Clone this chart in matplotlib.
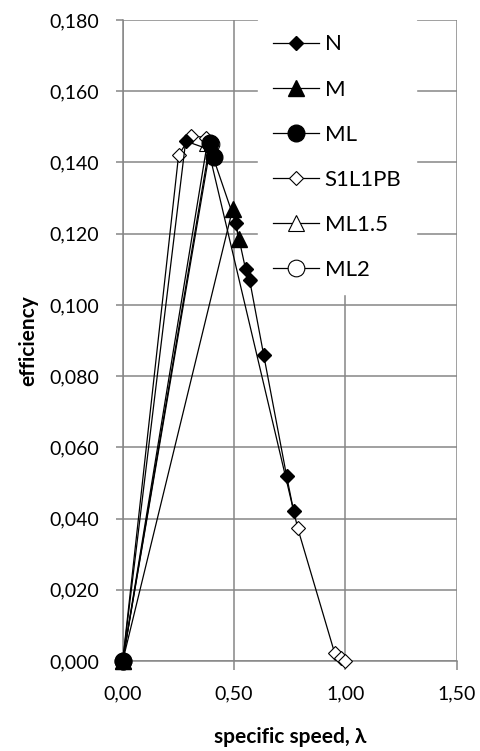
import matplotlib
matplotlib.use('Agg')
import matplotlib.pyplot as plt
from matplotlib.ticker import FuncFormatter, MultipleLocator

plt.rcParams['font.family'] = ['Lato', 'DejaVu Sans']

# values
n_x = [0.0, 0.283, 0.395, 0.507, 0.552, 0.570, 0.633, 0.736, 0.768]
n_y = [0.0, 0.146, 0.1435, 0.123, 0.110, 0.107, 0.086, 0.052, 0.042]

m_x = [0.0, 0.494, 0.521]
m_y = [0.0, 0.127, 0.1185]

ml_x = [0.0, 0.392, 0.412]
ml_y = [0.0, 0.1455, 0.1415]

s1_x = [0.0, 0.251, 0.305, 0.372, 0.786, 0.952, 0.979, 1.0]
s1_y = [0.0, 0.142, 0.1475, 0.147, 0.0373, 0.0022, 0.0008, 0.0]

ml15_x = [0.0, 0.380]
ml15_y = [0.0, 0.1455]

ml2_x = [0.0, 0.396]
ml2_y = [0.0, 0.1452]

grid_col = '#868686'

fig = plt.figure(figsize=(4.81, 7.51), dpi=100)
ax = fig.add_axes([122.7 / 481, 1 - 661 / 751, 334 / 481, 641 / 751])

kw = dict(color='black', lw=0.9, mec='black', clip_on=False)
# filled markers drawn on top of hollow ones, as in the picture
ax.plot(n_x, n_y, marker='D', ms=7.5, mfc='black', label='N', zorder=5, **kw)
ax.plot(m_x, m_y, marker='^', ms=11, mfc='black', label='M', zorder=5, **kw)
ax.plot(ml_x, ml_y, marker='o', ms=12, mfc='black', label='ML', zorder=5, **kw)
ax.plot(s1_x, s1_y, marker='D', ms=7, mfc='white', mew=0.8, label='S1L1PB', zorder=3, **kw)
ax.plot(ml15_x, ml15_y, marker='^', ms=11, mfc='white', mew=0.8, label='ML1.5', zorder=3, **kw)
ax.plot(ml2_x, ml2_y, marker='o', ms=12, mfc='white', mew=0.8, label='ML2', zorder=3, **kw)

ax.set_xlim(0, 1.5)
ax.set_ylim(0, 0.18)
ax.xaxis.set_major_locator(MultipleLocator(0.5))
ax.yaxis.set_major_locator(MultipleLocator(0.02))
ax.xaxis.set_major_formatter(FuncFormatter(lambda v, p: '{:.2f}'.format(v).replace('.', ',')))
ax.yaxis.set_major_formatter(FuncFormatter(lambda v, p: '{:.3f}'.format(v).replace('.', ',')))

ax.grid(True, color=grid_col, lw=1.1)
ax.set_axisbelow(True)
for s in ['top', 'right']:
    ax.spines[s].set_visible(False)
for s in ['left', 'bottom']:
    ax.spines[s].set_color(grid_col)
    ax.spines[s].set_linewidth(1.1)
ax.tick_params(axis='both', colors=grid_col, width=1.1, labelsize=14, labelcolor='black')
ax.tick_params(axis='y', length=5, pad=12)
ax.tick_params(axis='x', length=6.5, pad=11)

ax.set_xlabel('specific speed, λ', fontsize=15, fontweight='bold', labelpad=18)
ax.set_ylabel('efficiency', fontsize=15, fontweight='bold', labelpad=8)

leg = ax.legend(loc='upper right', bbox_to_anchor=(0.878, 1.0), frameon=True, fontsize=16,
                labelspacing=1.13, handlelength=2.07, handletextpad=0.27, borderpad=0.65,
                borderaxespad=0.0, fancybox=False)
leg.get_frame().set_edgecolor('white')
leg.get_frame().set_facecolor('white')
leg.get_frame().set_alpha(1.0)
leg.set_zorder(10)

fig.savefig('out.png', dpi=100)
